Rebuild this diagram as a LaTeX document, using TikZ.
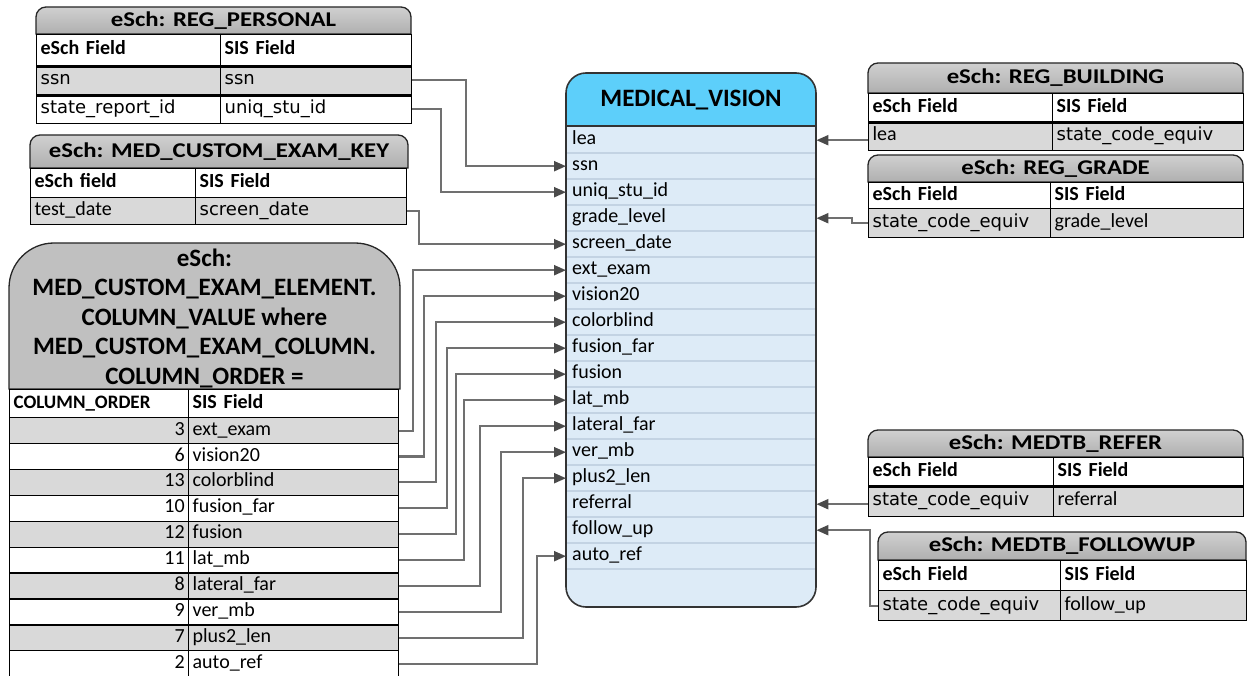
\documentclass[tikz,border=0pt]{standalone}
\usepackage{fontspec}
\usepackage{graphicx}
\setmainfont{Carlito}
\newfontfamily\vf{DejaVu Sans}
\usetikzlibrary{arrows.meta}
\definecolor{rowg}{HTML}{D9D9D9}
\definecolor{tabtop}{HTML}{D0D0D0}
\definecolor{tabbot}{HTML}{AFAFAF}
\definecolor{elhead}{HTML}{C0C0C0}
\definecolor{connc}{HTML}{707070}
\definecolor{arrc}{HTML}{4A4A4A}
\definecolor{mvhead}{HTML}{5DCFFA}
\definecolor{mvbody}{HTML}{DDEBF7}
\definecolor{mvsep}{HTML}{C3D3E3}
\newcommand\wide[1]{\scalebox{1.18}[1]{#1}}
\newcommand\mkcell[7]{\edef\mycw{\the\numexpr#4-8\relax}%
  \node[cell,#6,minimum width=#4pt,text width=\mycw pt,minimum height=#5pt] (#1) at (#2,#3) {#7};}
\newcommand\mktab[6]{%
  \draw[tab] (#2,#5) [rounded corners=10pt] -- (#2,#3) -- (#4,#3) [sharp corners] -- (#4,#5) -- cycle;
  \node[ttl] (#1) at ({(#2+#4)/2},{(#3+#5)/2}) {\wide{#6}};}
\tikzset{
  cell/.style={draw=black,line width=1.3pt,inner xsep=4pt,inner ysep=0pt,anchor=north west,align=left,
    text height=13pt,text depth=4pt,font=\fontsize{20}{22}\selectfont},
  g/.style={fill=rowg}, w/.style={fill=white},
  vv/.style={font=\vf\fontsize{18}{20}\selectfont},
  hb/.style={font=\bfseries\fontsize{20}{22}\selectfont},
  num/.style={align=right},
  thick line/.style={line width=2.6pt,draw=black},
  tab/.style={draw=black!85,line width=1.3pt,top color=tabtop,bottom color=tabbot},
  ttl/.style={font=\bfseries\fontsize{21}{24}\selectfont,inner sep=0pt},
  conn/.style={draw=connc,line width=2.1pt,-{Triangle[length=12pt,width=10pt,color=arrc]}},
  mvrow/.style={anchor=north west,minimum width=250pt,minimum height=26pt,text width=238pt,inner xsep=6pt,
    inner ysep=0pt,align=left,text height=13pt,text depth=4pt,font=\fontsize{20}{22}\selectfont}
}
\begin{document}
\begin{tikzpicture}[x=1pt,y=-1pt]
\useasboundingbox (0,0) rectangle (1248,676);

% ---------- REG_PERSONAL
\mktab{RPt}{36}{7}{411}{34}{eSch: REG\_PERSONAL}
\mkcell{RPh1}{36}{34}{184}{31}{w,hb}{eSch Field}
\mkcell{RPh2}{220}{34}{191}{31}{w,hb}{SIS Field}
\mkcell{RPa1}{36}{65}{184}{29}{g,vv}{ssn}
\mkcell{RPa2}{220}{65}{191}{29}{g,vv}{ssn}
\mkcell{RPb1}{36}{94}{184}{29}{w,vv}{state\_report\_id}
\mkcell{RPb2}{220}{94}{191}{29}{w,vv}{uniq\_stu\_id}
\draw[thick line] (RPh1.south west) -- (RPh2.south east);
\draw[thick line] (RPa1.south west) -- (RPa2.south east);

% ---------- MED_CUSTOM_EXAM_KEY
\mktab{MKt}{30}{135}{408}{168}{eSch: MED\_CUSTOM\_EXAM\_KEY}
\mkcell{MKh1}{30}{168}{165}{29}{w,hb}{eSch field}
\mkcell{MKh2}{195}{168}{211}{29}{w,hb}{SIS Field}
\mkcell{MKa1}{30}{197}{165}{27}{g}{test\_date}
\mkcell{MKa2}{195}{197}{211}{27}{g,vv}{screen\_date}

% ---------- MED_CUSTOM_EXAM_ELEMENT
\draw[draw=black!85,line width=1.3pt,fill=elhead] (9,389) [rounded corners=45pt] -- (9,243) -- (400,243) [sharp corners] -- (400,389) -- cycle;
\node[font=\bfseries\fontsize{25}{29.5}\selectfont,align=center] (ELt) at (204.5,318)
  {eSch:\\MED\_CUSTOM\_EXAM\_ELEMENT.\\COLUMN\_VALUE where\\MED\_CUSTOM\_EXAM\_COLUMN.\\COLUMN\_ORDER =};
\mkcell{ELh1}{9}{389}{179}{28}{w,font=\bfseries\fontsize{19}{22}\selectfont}{COLUMN\_ORDER}
\mkcell{ELh2}{188}{389}{210}{28}{w,hb}{SIS Field}
\mkcell{ELr1a}{9}{417}{179}{25.9}{g,num}{3}
\mkcell{ELr1b}{188}{417}{210}{25.9}{g}{ext\_exam}
\mkcell{ELr2a}{9}{442.9}{179}{25.9}{w,num}{6}
\mkcell{ELr2b}{188}{442.9}{210}{25.9}{w}{vision20}
\mkcell{ELr3a}{9}{468.8}{179}{25.9}{g,num}{13}
\mkcell{ELr3b}{188}{468.8}{210}{25.9}{g}{colorblind}
\mkcell{ELr4a}{9}{494.7}{179}{25.9}{w,num}{10}
\mkcell{ELr4b}{188}{494.7}{210}{25.9}{w}{fusion\_far}
\mkcell{ELr5a}{9}{520.6}{179}{25.9}{g,num}{12}
\mkcell{ELr5b}{188}{520.6}{210}{25.9}{g}{fusion}
\mkcell{ELr6a}{9}{546.5}{179}{25.9}{w,num}{11}
\mkcell{ELr6b}{188}{546.5}{210}{25.9}{w}{lat\_mb}
\mkcell{ELr7a}{9}{572.4}{179}{25.9}{g,num}{8}
\mkcell{ELr7b}{188}{572.4}{210}{25.9}{g}{lateral\_far}
\mkcell{ELr8a}{9}{598.3}{179}{25.9}{w,num}{9}
\mkcell{ELr8b}{188}{598.3}{210}{25.9}{w}{ver\_mb}
\mkcell{ELr9a}{9}{624.2}{179}{25.9}{g,num}{7}
\mkcell{ELr9b}{188}{624.2}{210}{25.9}{g}{plus2\_len}
\mkcell{ELr10a}{9}{650.1}{179}{25.9}{w,num}{2}
\mkcell{ELr10b}{188}{650.1}{210}{25.9}{w}{auto\_ref}

% ---------- MEDICAL_VISION
\fill[mvbody,rounded corners=20pt] (566,73) rectangle (816,607);
\begin{scope}
  \clip[rounded corners=20pt] (566,73) rectangle (816,607);
  \fill[mvhead] (566,73) rectangle (816,126);
\end{scope}
\foreach \yy in {153,179,...,569} \draw[mvsep,line width=1.2pt] (567,\yy) -- (815,\yy);
\draw[black!80,line width=1.4pt] (566,126) -- (816,126);
\draw[draw=black!80,line width=1.6pt,rounded corners=20pt] (566,73) rectangle (816,607);
\node[font=\bfseries\fontsize{25}{28}\selectfont] (MVt) at (691,100) {MEDICAL\_VISION};
\node[mvrow] (MV-lea) at (566,127) {lea};
\node[mvrow] (MV-ssn) at (566,153) {ssn};
\node[mvrow] (MV-uniq) at (566,179) {uniq\_stu\_id};
\node[mvrow] (MV-grade) at (566,205) {grade\_level};
\node[mvrow] (MV-screen) at (566,231) {screen\_date};
\node[mvrow] (MV-ext) at (566,257) {ext\_exam};
\node[mvrow] (MV-vision) at (566,283) {vision20};
\node[mvrow] (MV-color) at (566,309) {colorblind};
\node[mvrow] (MV-ffar) at (566,335) {fusion\_far};
\node[mvrow] (MV-fusion) at (566,361) {fusion};
\node[mvrow] (MV-latmb) at (566,387) {lat\_mb};
\node[mvrow] (MV-latfar) at (566,413) {lateral\_far};
\node[mvrow] (MV-vermb) at (566,439) {ver\_mb};
\node[mvrow] (MV-plus) at (566,465) {plus2\_len};
\node[mvrow] (MV-referral) at (566,491) {referral};
\node[mvrow] (MV-follow) at (566,517) {follow\_up};
\node[mvrow] (MV-auto) at (566,543) {auto\_ref};

% ---------- right tables
\mktab{RBt}{868}{63}{1243}{93}{eSch: REG\_BUILDING}
\mkcell{RBh1}{868}{93}{184}{28}{w,hb}{eSch Field}
\mkcell{RBh2}{1052}{93}{191}{28}{w,hb}{SIS Field}
\mkcell{RBa1}{868}{121}{184}{29}{g}{lea}
\mkcell{RBa2}{1052}{121}{191}{29}{g,vv}{state\_code\_equiv}
\draw[thick line] (RBh1.south west) -- (RBh2.south east);

\mktab{RGt}{868}{155}{1243}{182}{eSch: REG\_GRADE}
\mkcell{RGh1}{868}{182}{182}{26}{w,hb}{eSch Field}
\mkcell{RGh2}{1050}{182}{193}{26}{w,hb}{SIS Field}
\mkcell{RGa1}{868}{208}{182}{29}{g,vv}{state\_code\_equiv}
\mkcell{RGa2}{1050}{208}{193}{29}{g}{grade\_level}

\mktab{MRt}{868}{430}{1243}{457}{eSch: MEDTB\_REFER}
\mkcell{MRh1}{868}{457}{185}{28}{w,hb}{eSch Field}
\mkcell{MRh2}{1053}{457}{190}{28}{w,hb}{SIS Field}
\mkcell{MRa1}{868}{485}{185}{31}{g,vv}{state\_code\_equiv}
\mkcell{MRa2}{1053}{485}{190}{31}{g}{referral}
\draw[thick line] (MRh1.south west) -- (MRh2.south east);

\mktab{MFt}{878}{532}{1246}{560}{eSch: MEDTB\_FOLLOWUP}
\mkcell{MFh1}{878}{560}{182}{30}{w,hb}{eSch Field}
\mkcell{MFh2}{1060}{560}{186}{30}{w,hb}{SIS Field}
\mkcell{MFa1}{878}{590}{182}{30}{g,vv}{state\_code\_equiv}
\mkcell{MFa2}{1060}{590}{186}{30}{g}{follow\_up}

% ---------- connectors
\draw[conn] (RPa2.east) -- ++(54,0) |- (MV-ssn.west);
\draw[conn] (RPb2.east) -- ++(29,0) |- (MV-uniq.west);
\draw[conn] (MKa2.east) -- ++(12,0) |- (MV-screen.west);
\draw[conn] (ELr1b.east) -- ++(14,0) |- (MV-ext.west);
\draw[conn] (ELr2b.east) -- ++(25,0) |- (MV-vision.west);
\draw[conn] (ELr3b.east) -- ++(37,0) |- (MV-color.west);
\draw[conn] (ELr4b.east) -- ++(48,0) |- (MV-ffar.west);
\draw[conn] (ELr5b.east) -- ++(57,0) |- (MV-fusion.west);
\draw[conn] (ELr6b.east) -- ++(65,0) |- (MV-latmb.west);
\draw[conn] (ELr7b.east) -- ++(81,0) |- (MV-latfar.west);
\draw[conn] (ELr8b.east) -- ++(102,0) |- (MV-vermb.west);
\draw[conn] (ELr9b.east) -- ++(124,0) |- (MV-plus.west);
\draw[conn] (ELr10b.east) -- ++(138,0) |- (MV-auto.west);
\draw[conn] (RBa1.west |- MV-lea.east) -- (MV-lea.east);
\draw[conn] (RGa1.west) -- ++(-16,0) |- (MV-grade.east);
\draw[conn] (MRa1.west |- MV-referral.east) -- (MV-referral.east);
\draw[conn] (MFa1.west) -- ++(-8,0) |- (MV-follow.east);
\end{tikzpicture}
\end{document}
